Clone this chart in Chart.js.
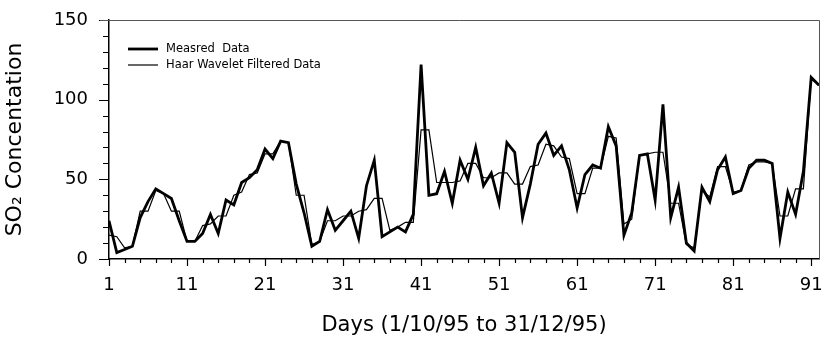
<!DOCTYPE html>
<html>
<head>
<meta charset="utf-8">
<script src="https://cdn.jsdelivr.net/npm/chart.js@4.4.1/dist/chart.umd.min.js"></script>
<style>
  html, body { margin: 0; padding: 0; background: #fff; }
  #wrap { width: 823px; height: 341px; }
</style>
</head>
<body>
<div id="wrap"><canvas id="myChart"></canvas></div>
<script>
const days = [
    1, 2, 3, 4, 5, 6, 7, 8, 9, 10, 11, 12, 13, 14, 15, 16, 17, 18, 19, 20,
    21, 22, 23, 24, 25, 26, 27, 28, 29, 30, 31, 32, 33, 34, 35, 36, 37, 38, 39, 40,
    41, 42, 43, 44, 45, 46, 47, 48, 49, 50, 51, 52, 53, 54, 55, 56, 57, 58, 59, 60,
    61, 62, 63, 64, 65, 66, 67, 68, 69, 70, 71, 72, 73, 74, 75, 76, 77, 78, 79, 80,
    81, 82, 83, 84, 85, 86, 87, 88, 89, 90, 91, 92
];
const measured = [
    24, 4, 6, 8, 26, 36, 44, 41, 38, 24, 11, 11, 16, 28, 16, 37, 34, 48, 51, 56,
    69, 63, 74, 73, 47, 29, 8, 11, 31, 18, 24, 30, 13, 46, 62, 14, 17, 20, 17, 28,
    122, 40, 41, 55, 35, 62, 50, 70, 46, 54, 35, 73, 67, 26, 47, 72, 79, 65, 71, 56,
    32, 53, 59, 57, 83, 71, 15, 29, 65, 66, 37, 97, 26, 45, 10, 5, 45, 36, 56, 64,
    41, 43, 57, 62, 62, 60, 13, 42, 28, 55, 114, 109
];
const filtered = [
    15, 14, 7, 8, 30, 30, 43, 41, 30, 30, 11, 11, 21, 22, 27, 27, 40, 42, 53, 54,
    66, 66, 74, 73, 40, 40, 9, 11, 24, 24, 27, 27, 30, 31, 38, 38, 18, 20, 23, 23,
    81, 81, 48, 48, 48, 49, 60, 60, 51, 51, 54, 54, 47, 47, 58, 59, 72, 71, 64, 63,
    41, 41, 57, 57, 77, 76, 22, 25, 65, 66, 67, 67, 35, 35, 9, 7, 43, 39, 58, 58,
    42, 43, 59, 61, 61, 60, 27, 27, 44, 44, 113, 109
];
const seriesNames = ['Measred  Data', 'Haar Wavelet Filtered Data'];
const xLabelDays = [1, 11, 21, 31, 41, 51, 61, 71, 81, 91];
const yLabels = [0, 50, 100, 150];

const FONT = 'DejaVu Sans';

// ticks drawn by hand so minor and major can have different lengths
const tickMarks = {
    id: 'tickMarks',
    afterDraw(chart) {
        const ctx = chart.ctx;
        const xs = chart.scales.x, ys = chart.scales.y;
        const area = chart.chartArea;
        ctx.save();
        ctx.strokeStyle = '#000';
        ctx.lineWidth = 1.2;
        ctx.beginPath();
        xs.ticks.forEach(t => {
            const px = Math.round(xs.getPixelForValue(t.value)) + 0.5;
            const len = xLabelDays.includes(t.value) ? 7 : 4;
            ctx.moveTo(px, area.bottom);
            ctx.lineTo(px, area.bottom + len);
        });
        ys.ticks.forEach(t => {
            const py = Math.round(ys.getPixelForValue(t.value)) + 0.5;
            const len = yLabels.includes(t.value) ? 10 : 6;
            ctx.moveTo(area.left, py);
            ctx.lineTo(area.left - len, py);
        });
        ctx.stroke();
        // thin frame on top and right
        ctx.strokeStyle = '#555';
        ctx.lineWidth = 1;
        ctx.beginPath();
        ctx.moveTo(area.left - 9, area.top + 0.5);
        ctx.lineTo(area.right + 0.5, area.top + 0.5);
        ctx.lineTo(area.right + 0.5, area.bottom);
        ctx.stroke();

        // legend in the upper left of the plot
        chart.data.datasets.forEach((ds, i) => {
            const y = area.top + 29 + i * 16;
            ctx.strokeStyle = '#000';
            ctx.lineWidth = ds.borderWidth;
            ctx.beginPath();
            ctx.moveTo(area.left + 19, y);
            ctx.lineTo(area.left + 49, y);
            ctx.stroke();
            ctx.fillStyle = '#000';
            ctx.font = '11.5px "' + FONT + '"';
            ctx.textBaseline = 'middle';
            ctx.textAlign = 'left';
            ctx.fillText(ds.label, area.left + 57, y);
        });
        ctx.restore();
    }
};

const data = {
    datasets: [{
        label: seriesNames[0],
        data: days.map((d, i) => ({ x: d, y: measured[i] })),
        borderColor: '#000',
        borderWidth: 2.8,
        pointRadius: 0,
        tension: 0,
    }, {
        label: seriesNames[1],
        data: days.map((d, i) => ({ x: d, y: filtered[i] })),
        borderColor: '#000',
        borderWidth: 1.2,
        pointRadius: 0,
        tension: 0,
    }]
};

const config = {
    type: 'line',
    data: data,
    plugins: [tickMarks],
    options: {
        responsive: true,
        maintainAspectRatio: false,
        animation: false,
        layout: { padding: { top: 20, right: 4, left: 0, bottom: 0 } },
        plugins: {
            legend: { display: false },
            tooltip: { enabled: false }
        },
        scales: {
            x: {
                type: 'linear',
                min: 1,
                max: 92,
                afterBuildTicks: (scale) => {
                    scale.ticks = days.filter(d => d % 2 === 1).map(v => ({ value: v }));
                },
                afterFit: (scale) => {
                    scale.height = 82;
                    scale.paddingLeft = 0;
                    scale.paddingRight = 0;
                },
                grid: { display: true, drawOnChartArea: false, drawTicks: false },
                border: { display: true, color: '#000', width: 1.5 },
                ticks: {
                    autoSkip: false,
                    maxRotation: 0,
                    padding: 16,
                    color: '#000',
                    font: { family: FONT, size: 18 },
                    callback: (v) => xLabelDays.includes(v) ? String(v) : ''
                },
                title: {
                    display: true,
                    text: 'Days (1/10/95 to 31/12/95)',
                    color: '#000',
                    font: { family: FONT, size: 21 },
                    padding: { top: 0, bottom: 3 }
                }
            },
            y: {
                min: 0,
                max: 150,
                afterFit: (scale) => {
                    scale.width = 109;
                    scale.paddingTop = 0;
                    scale.paddingBottom = 0;
                },
                grid: { display: true, drawOnChartArea: false, drawTicks: false },
                border: { display: true, color: '#000', width: 1.5 },
                ticks: {
                    stepSize: 10,
                    autoSkip: false,
                    padding: 21,
                    color: '#000',
                    font: { family: FONT, size: 18 },
                    callback: (v) => yLabels.includes(v) ? String(v) : ''
                },
                title: {
                    display: true,
                    text: 'SO\u2082 Concentation',
                    color: '#000',
                    font: { family: FONT, size: 22 },
                    padding: { top: 2, bottom: 0 }
                }
            }
        }
    },
};

const myChart = new Chart(
    document.getElementById('myChart'),
    config
);
</script>
</body>
</html>
